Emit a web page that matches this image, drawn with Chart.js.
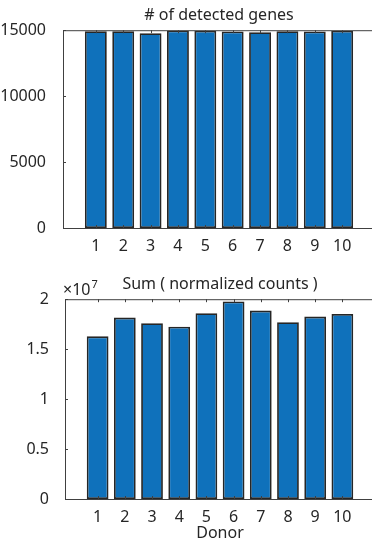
<!DOCTYPE html>
<html>
<head>
<meta charset="utf-8">
<script src="https://cdn.jsdelivr.net/npm/chart.js@4"></script>
<style>
  html, body { margin: 0; padding: 0; background: #fff; overflow: hidden; }
  canvas { position: absolute; left: 0; }
  #genesChart { top: 0; }
  #countsChart { top: 270px; }
</style>
</head>
<body>
<canvas id="genesChart" width="380" height="260"></canvas>
<canvas id="countsChart" width="380" height="277"></canvas>
<script>
// data
const donors = [1, 2, 3, 4, 5, 6, 7, 8, 9, 10];
const detectedGenes = [14920, 14920, 14770, 14980, 14960, 14900, 14850, 14920, 14900, 14960];
const normalizedSums = [1.628e7, 1.816e7, 1.759e7, 1.725e7, 1.859e7, 1.977e7, 1.886e7, 1.769e7, 1.826e7, 1.852e7];
const genesTicks = [0, 5000, 10000, 15000];
const countsTicks = [0, 0.5e7, 1e7, 1.5e7, 2e7];

const BAR_BLUE = "#0f71bb";
const EDGE = "#262626";
const AXIS = "#404040";
const FONT = "'Noto Sans', 'DejaVu Sans', sans-serif";

Chart.defaults.font.family = FONT;
Chart.defaults.font.size = 16;
Chart.defaults.color = "#262626";

// matlab-ish box with inward ticks
const boxPlugin = {
  id: "box",
  afterDraw(chart) {
    const { ctx, chartArea: a, scales } = chart;
    ctx.save();
    ctx.strokeStyle = AXIS;
    ctx.lineWidth = 1;
    ctx.strokeRect(a.left + 0.5, a.top + 0.5, a.right - a.left, a.bottom - a.top);
    ctx.beginPath();
    scales.x.ticks.forEach((t) => {
      const px = Math.round(scales.x.getPixelForValue(t.value)) + 0.5;
      ctx.moveTo(px, a.bottom);
      ctx.lineTo(px, a.bottom - 3);
      ctx.moveTo(px, a.top);
      ctx.lineTo(px, a.top + 3);
    });
    scales.y.ticks.forEach((t) => {
      const py = Math.round(scales.y.getPixelForValue(t.value)) + 0.5;
      ctx.moveTo(a.left, py);
      ctx.lineTo(a.left + 3, py);
      ctx.moveTo(a.right, py);
      ctx.lineTo(a.right - 3, py);
    });
    ctx.stroke();
    ctx.restore();
  },
};

// x10^7 multiplier above the axis
const exponentPlugin = {
  id: "exponent",
  afterDraw(chart, args, opts) {
    if (!opts.text) return;
    const { ctx, chartArea: a } = chart;
    ctx.save();
    ctx.fillStyle = "#262626";
    ctx.textBaseline = "alphabetic";
    ctx.font = "16px " + FONT;
    ctx.fillText("\u00d710", a.left - 2, a.top - 4);
    const w = ctx.measureText("\u00d710").width;
    ctx.font = "11px " + FONT;
    ctx.fillText(opts.text, a.left - 1 + w, a.top - 11);
    ctx.restore();
  },
};

function makeChart(id, values, yTicks, opts) {
  return new Chart(document.getElementById(id), {
    type: "bar",
    data: {
      datasets: [
        {
          data: donors.map((d, i) => ({ x: d, y: values[i] })),
          backgroundColor: BAR_BLUE,
          borderColor: EDGE,
          borderWidth: 1.8,
          borderSkipped: false,
          barPercentage: 1,
          categoryPercentage: 0.8,
        },
      ],
    },
    options: {
      responsive: false,
      animation: false,
      layout: { padding: { left: 0, right: 5, top: 0, bottom: opts.bottomPad } },
      plugins: {
        legend: { display: false },
        tooltip: { enabled: false },
        title: {
          display: true,
          text: opts.title,
          fullSize: false,
          font: { size: 16, weight: "normal" },
          padding: { top: opts.titleTop, bottom: opts.titleBottom },
        },
        exponent: { text: opts.exponent },
      },
      scales: {
        x: {
          type: "linear",
          offset: false,
          min: -0.2,
          max: 11.2,
          grid: { display: false },
          border: { display: false },
          title: {
            display: !!opts.xTitle,
            text: opts.xTitle,
            font: { size: 16 },
            padding: { top: 0, bottom: 0 },
          },
          ticks: { padding: 1, font: { size: 16 } },
          afterBuildTicks: (s) => {
            s.ticks = donors.map((v) => ({ value: v }));
          },
          afterFit: (s) => {
            s.height = opts.xHeight;
          },
        },
        y: {
          min: 0,
          max: yTicks[yTicks.length - 1],
          grid: { display: false },
          border: { display: false },
          ticks: {
            padding: opts.yPad,
            font: { size: 16 },
            callback: opts.yFormat,
          },
          afterBuildTicks: (s) => {
            s.ticks = yTicks.map((v) => ({ value: v }));
          },
          afterFit: (s) => {
            s.width = opts.yWidth;
          },
        },
      },
    },
    plugins: [boxPlugin, exponentPlugin],
  });
}

makeChart("genesChart", detectedGenes, genesTicks, {
  title: "# of detected genes",
  titleTop: 6,
  titleBottom: 5,
  xHeight: 32,
  bottomPad: 0,
  yWidth: 63,
  yPad: 9,
  yFormat: (v) => String(v),
});

makeChart("countsChart", normalizedSums, countsTicks, {
  title: "Sum ( normalized counts )",
  titleTop: 5,
  titleBottom: 5,
  exponent: "7",
  xTitle: "Donor",
  xHeight: 44,
  bottomPad: 4,
  yWidth: 65,
  yPad: 8,
  yFormat: (v) => String(v / 1e7),
});
</script>
</body>
</html>
